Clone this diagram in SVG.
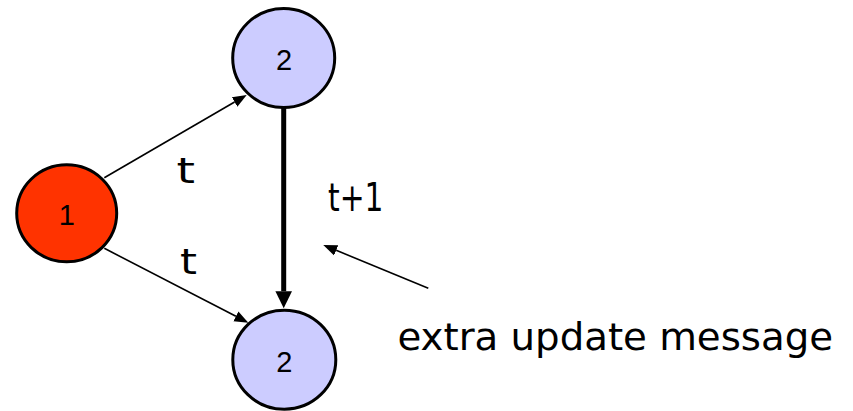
<svg xmlns="http://www.w3.org/2000/svg" width="853" height="411" viewBox="0 0 853 411">
  <style>
    .node { stroke: #000; stroke-width: 3; }
    .blue { fill: #CCCCFF; }
    .red { fill: #FF3300; }
    .nlabel { font-family: "Liberation Sans", Arial, sans-serif; font-size: 29px; fill: #000; text-anchor: middle; }
    .elabel { font-family: "DejaVu Sans", sans-serif; fill: #000; }
    .thin { stroke: #000; stroke-width: 1.6; fill: none; marker-end: url(#ah); }
    .thick { stroke: #000; stroke-width: 5; fill: none; marker-end: url(#ahBig); }
  </style>
  <defs>
    <marker id="ah" markerUnits="userSpaceOnUse" markerWidth="16" markerHeight="14" viewBox="0 -7 16 14" refX="0" refY="0" orient="auto">
      <path d="M0,-5.5 L14,0 L0,5.5 Z" fill="#000"/>
    </marker>
    <marker id="ahBig" markerUnits="userSpaceOnUse" markerWidth="18" markerHeight="18" viewBox="0 -9 18 18" refX="0" refY="0" orient="auto">
      <path d="M0,-8.3 L17,0 L0,8.3 Z" fill="#000"/>
    </marker>
  </defs>
  <rect width="853" height="411" fill="#fff"/>
  <g id="node1">
    <ellipse class="node red" cx="66.7" cy="213.3" rx="50" ry="48.5"/>
    <text class="nlabel" x="66.7" y="224.8">1</text>
  </g>
  <g id="node2top">
    <ellipse class="node blue" cx="283.7" cy="58" rx="51" ry="49.5"/>
    <text class="nlabel" x="284" y="69.5">2</text>
  </g>
  <g id="node2bottom">
    <ellipse class="node blue" cx="284.3" cy="359.7" rx="51.5" ry="49.5"/>
    <text class="nlabel" x="284.3" y="371.5">2</text>
  </g>
  <g id="connectors">
    <line class="thin" x1="104.3" y1="177.7" x2="234.6" y2="102"/>
    <line class="thin" x1="104.3" y1="248.3" x2="235.9" y2="316.3"/>
    <line class="thick" x1="283.7" y1="107" x2="283.7" y2="291.3"/>
    <line class="thin" x1="428.3" y1="288.3" x2="336.2" y2="250.3"/>
  </g>
  <g id="labels">
    <text class="elabel" x="176.5" y="182.5" font-size="36" textLength="18.5" lengthAdjust="spacingAndGlyphs">t</text>
    <text class="elabel" x="180" y="273.5" font-size="36" textLength="17" lengthAdjust="spacingAndGlyphs">t</text>
    <text class="elabel" x="328" y="210.5" font-size="39" textLength="55.5" lengthAdjust="spacingAndGlyphs">t+1</text>
    <text class="elabel" x="397.5" y="349.5" font-size="37" textLength="435.5" lengthAdjust="spacingAndGlyphs">extra update message</text>
  </g>
</svg>
